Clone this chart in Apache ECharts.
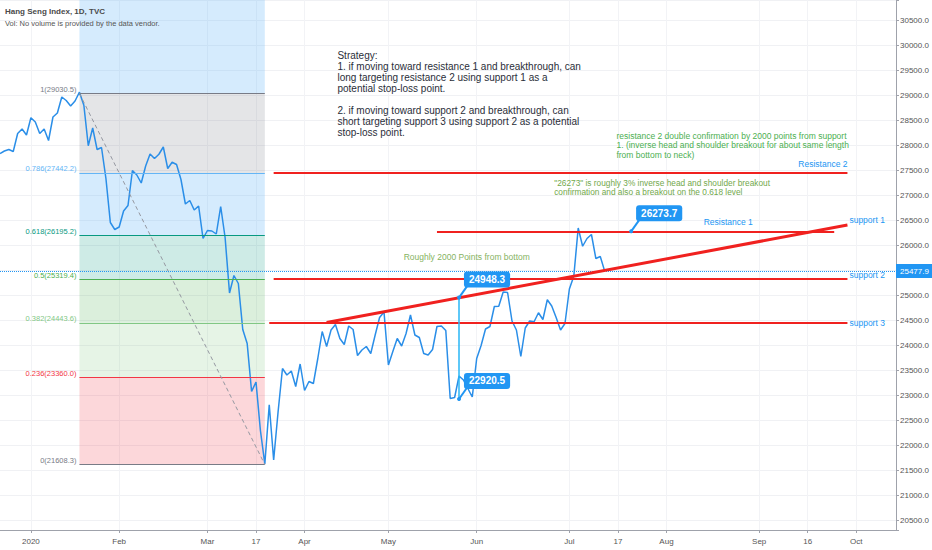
<!DOCTYPE html>
<html>
<head>
<meta charset="utf-8">
<title>Hang Seng Index, 1D</title>
<script src="https://cdn.jsdelivr.net/npm/echarts@6/dist/echarts.min.js"></script>
<style>
  html, body { margin: 0; padding: 0; background: #fff; }
  #main { width: 932px; height: 550px; }
</style>
</head>
<body>
<div id="main"></div>
<script>
// HKEX trading calendar, 2019-12-19 .. 2020-10-14 (weekends and exchange holidays left out)
const holidays = ['2019-12-25', '2019-12-26', '2020-01-01', '2020-01-27', '2020-01-28',
  '2020-04-10', '2020-04-13', '2020-04-30', '2020-05-01', '2020-06-25', '2020-07-01'];
const dates = [];
for (let d = new Date(Date.UTC(2019, 11, 19)); d <= new Date(Date.UTC(2020, 9, 14)); d.setUTCDate(d.getUTCDate() + 1)) {
  const s = d.toISOString().slice(0, 10);
  const wd = d.getUTCDay();
  if (wd !== 0 && wd !== 6 && holidays.indexOf(s) < 0) dates.push(s);
}

// daily closes, 2019-12-19 .. 2020-07-14
const closes = [
  27830, 27880, 27910, 27870, 28230, 28320, 28200,
  28545, 28460, 28230, 28320, 28090, 28560, 28640, 28960, 28890, 28780,
  28880, 29056, 28795, 27985, 28340, 27910, 27950, 27330, 26450, 26310,
  26360, 26680, 26790, 27490, 27400, 27240, 27580, 27820, 27730, 27815,
  27960, 27530, 27655, 27610, 27310, 26820, 26890, 26700, 26780, 26130,
  26290, 26280, 26220, 26770, 26150, 25040, 25390, 25230, 24310, 24030,
  23070, 23260, 22290, 21620, 22805, 21700, 22660, 23530, 23400, 23480,
  23170, 23620, 23090, 23270, 23230, 23730, 24270, 23970, 24300, 24410,
  24130, 24010, 24380, 24310, 23790, 23900, 23970, 23830, 24200, 24550,
  24660, 23600, 23870, 24130, 23980, 24230, 24600, 24200, 24150, 23830,
  23800, 23910, 24370, 24380, 24290, 22930, 22950, 23380, 23300, 23130,
  22960, 23730, 23990, 24320, 24370, 24770, 24775, 25060, 25050, 24480,
  24300, 23770, 24340, 24480, 24465, 24645, 24510, 24905, 24780, 24550,
  24300, 24430, 25120, 25375, 26340, 25975, 26130, 26210, 25730, 25770,
  25477.9
];

const tickDates = ['2020-01-02', '2020-02-03', '2020-03-02', '2020-03-17', '2020-04-01', '2020-05-04',
  '2020-06-01', '2020-07-02', '2020-07-17', '2020-08-03', '2020-09-01', '2020-09-16', '2020-10-01'];
const tickLabels = ['2020', 'Feb', 'Mar', '17', 'Apr', 'May', 'Jun', 'Jul', '17', 'Aug', 'Sep', '16', 'Oct'];

// fibonacci retracement
const fibRatios = [1, 0.786, 0.618, 0.5, 0.382, 0.236, 0];
const fibPrices = [29030.5, 27442.2, 26195.2, 25319.4, 24443.6, 23360.0, 21608.3];
const fibStart = '2020-01-17';
const fibEnd = '2020-03-19';

// drawn levels
const resistance2 = 27450;
const resistance1 = 26273.7;
const support2 = 25319.4;
const support3 = 24443.6;
const trendLine = [['2020-04-08', 24450], ['2020-09-29', 26400]];
const measureDate = '2020-05-26';
const measureLow = 22920.5;
const measureHigh = 24948.3;
const peakNoteDate = '2020-07-22';
const lastPrice = 25477.9;

const fibColors = ['#787b86', '#64b5f6', '#089981', '#4caf50', '#81c784', '#f23645', '#787b86'];
const RED = '#f0211f';
const BLUE = '#2196f3';
const FONT = "'Liberation Sans', Arial, sans-serif";
const Y_MIN = 20300, Y_MAX = 30900;

const hexA = (hex, a) => {
  const n = parseInt(hex.slice(1), 16);
  return `rgba(${n >> 16},${(n >> 8) & 255},${n & 255},${a})`;
};
const shift = (d, k) => dates[dates.indexOf(d) + k];
const isTick = (idx, value) => tickDates.indexOf(value) >= 0;

// fib bands + levels
const fibAreas = [[
  { coord: [fibStart, Y_MAX], itemStyle: { color: hexA('#64b5f6', 0.27) } },
  { coord: [fibEnd, fibPrices[0]] }
]];
for (let k = 0; k < fibPrices.length - 1; k++) {
  fibAreas.push([
    { coord: [fibStart, fibPrices[k]], itemStyle: { color: hexA(fibColors[k], k === 1 ? 0.27 : 0.2) } },
    { coord: [fibEnd, fibPrices[k + 1]] }
  ]);
}
const fibLines = fibPrices.map((p, k) => [
  {
    coord: [fibStart, p],
    lineStyle: { color: fibColors[k], width: 1, type: 'solid' },
    label: {
      show: true, position: 'start', distance: 3, verticalAlign: 'bottom',
      formatter: fibRatios[k] + '(' + p.toFixed(1) + ')',
      color: fibColors[k], fontSize: 7.5, fontFamily: FONT
    }
  },
  { coord: [fibEnd, p] }
]);
fibLines.push([
  { coord: [fibStart, fibPrices[0]], lineStyle: { color: '#9598a1', width: 1, type: [4, 3] }, label: { show: false } },
  { coord: [fibEnd, fibPrices[fibPrices.length - 1]] }
]);

const levelLabel = (text, extra) => Object.assign({
  show: true, formatter: text, color: BLUE, fontSize: 8.5, fontFamily: FONT
}, extra);

const hLine = (from, to, price, label) => [
  { coord: [from, price], lineStyle: { color: RED, width: 2, type: 'solid' }, label: label || { show: false } },
  { coord: [to, price] }
];

const drawLines = [
  hLine('2020-03-23', '2020-09-29', resistance2, levelLabel('Resistance 2', { position: 'insideEndTop', distance: [0, 4] })),
  hLine('2020-05-19', '2020-09-24', resistance1),
  hLine('2020-03-23', '2020-09-29', support2, levelLabel('support 2', { position: 'end', distance: 2, verticalAlign: 'bottom' })),
  hLine('2020-03-20', '2020-09-29', support3, levelLabel('support 3', { position: 'end', distance: 2 })),
  [
    { coord: trendLine[0], lineStyle: { color: RED, width: 3, type: 'solid' },
      label: levelLabel('support 1', { position: 'end', distance: 2, verticalAlign: 'bottom' }) },
    { coord: trendLine[1] }
  ],
  [
    { coord: [measureDate, measureLow], lineStyle: { color: '#29b6f6', width: 1.5, type: 'solid' }, label: { show: false } },
    { coord: [measureDate, measureHigh] }
  ]
];
// callout tails
[[measureDate, measureHigh], [measureDate, measureLow], [peakNoteDate, resistance1]].forEach(([d, v]) => {
  drawLines.push([
    { coord: [d, v], lineStyle: { color: BLUE, width: 2, type: 'solid' }, label: { show: false } },
    { coord: [shift(d, 2), v + 250] }
  ]);
});

const callout = (d, v) => ({
  coord: [d, v], symbol: 'circle', symbolSize: 4, itemStyle: { color: BLUE },
  label: {
    show: true, position: 'inside', offset: [28, -18], formatter: v.toFixed(1),
    backgroundColor: BLUE, color: '#fff', fontWeight: 'bold', fontSize: 10,
    fontFamily: FONT, padding: [3, 5, 3, 5], borderRadius: 3
  }
});
const note = (d, v, text, style) => ({
  coord: [d, v], symbol: 'circle', symbolSize: 1, itemStyle: { color: 'rgba(0,0,0,0)' },
  label: Object.assign({
    show: true, position: 'right', distance: 0, align: 'left', verticalAlign: 'top',
    formatter: text, fontFamily: FONT
  }, style)
});

const notes = [
  callout(measureDate, measureHigh),
  callout(measureDate, measureLow),
  callout(peakNoteDate, resistance1),
  note('2020-04-14', 29900, [
    'Strategy:',
    '1. if moving toward resistance 1 and breakthrough, can',
    'long targeting resistance 2 using support 1 as a',
    'potential stop-loss point.',
    '',
    '2. if moving toward support 2 and breakthrough, can',
    'short targeting support 3 using support 2 as a potential',
    'stop-loss point.'
  ].join('\n'), { color: '#2a2e39', fontSize: 10, lineHeight: 11, offset: [1.5, 0] }),
  note('2020-07-17', 28282, [
    'resistance 2 double confirmation by 2000 points from support',
    '1. (inverse head and shoulder breakout for about same length',
    'from bottom to neck)'
  ].join('\n'), { color: '#4caf50', fontSize: 8.5, lineHeight: 9.7, offset: [-2, 0] }),
  note('2020-06-24', 27342, [
    '"26273" is roughly 3% inverse head and shoulder breakout',
    'confirmation and also a breakout on the 0.618 level'
  ].join('\n'), { color: '#72a84b', fontSize: 8.3, lineHeight: 9.6, offset: [2, 0] }),
  note('2020-05-07', 25766, 'Roughly 2000 Points from bottom',
    { color: '#86b35f', fontSize: 8.5, verticalAlign: 'middle', offset: [1.5, 0] }),
  note('2020-08-21', 26466, 'Resistance 1',
    { color: BLUE, fontSize: 8.5, position: 'inside', align: 'center', verticalAlign: 'middle' })
];

const option = {
  animation: false,
  backgroundColor: '#fff',
  title: {
    text: 'Hang Seng Index, 1D, TVC',
    subtext: 'Vol: No volume is provided by the data vendor.',
    left: 5, top: 7, itemGap: 4, padding: 0,
    textStyle: { fontSize: 8, fontWeight: 'bold', color: '#4a4a4a', fontFamily: FONT },
    subtextStyle: { fontSize: 7.5, color: '#555', fontFamily: FONT }
  },
  grid: { left: 0, right: 36, top: 0, bottom: 20, outerBoundsMode: 'none' },
  xAxis: {
    type: 'category',
    data: dates,
    boundaryGap: false,
    axisLine: { lineStyle: { color: '#9fa2ab' } },
    axisTick: { interval: isTick, length: 3, lineStyle: { color: '#9fa2ab' } },
    axisLabel: {
      interval: isTick, margin: 7, fontSize: 8, color: '#555', fontFamily: FONT,
      formatter: v => tickLabels[tickDates.indexOf(v)]
    },
    splitLine: { show: true, interval: isTick, lineStyle: { color: '#f2f3f6' } }
  },
  yAxis: {
    type: 'value',
    position: 'right',
    min: Y_MIN, max: Y_MAX,
    splitNumber: 21, minInterval: 500, maxInterval: 500,
    axisLine: { show: true, lineStyle: { color: '#9fa2ab' } },
    axisTick: { show: true, length: 3, lineStyle: { color: '#9fa2ab' } },
    axisLabel: {
      margin: 4, fontSize: 8, color: '#555', fontFamily: FONT,
      formatter: v => (v % 500 === 0 ? v.toFixed(1) : '')
    },
    splitLine: { lineStyle: { color: '#f0f1f4' } }
  },
  series: [
    {
      name: 'fib',
      type: 'line',
      data: [],
      silent: true,
      markArea: { silent: true, data: fibAreas },
      markLine: { silent: true, symbol: ['none', 'none'], data: fibLines }
    },
    {
      name: 'HSI',
      type: 'line',
      data: closes,
      z: 3,
      symbol: 'none',
      lineStyle: { color: '#2a8ee8', width: 1.5 },
      itemStyle: { color: '#2a8ee8' },
      markLine: {
        silent: true, symbol: ['none', 'none'],
        data: [{
          yAxis: lastPrice,
          lineStyle: { color: BLUE, type: 'dotted', width: 1 },
          label: {
            show: true, position: 'end', distance: 0, formatter: lastPrice.toFixed(1),
            backgroundColor: BLUE, color: '#fff', fontSize: 8, fontFamily: FONT,
            padding: [3, 4, 3, 4]
          }
        }]
      }
    },
    {
      name: 'drawings',
      type: 'line',
      data: [],
      silent: true,
      markLine: { silent: true, symbol: ['none', 'none'], data: drawLines },
      markPoint: { silent: true, data: notes }
    }
  ]
};

const chart = echarts.init(document.getElementById('main'), null, { renderer: 'svg' });
chart.setOption(option);
</script>
</body>
</html>
